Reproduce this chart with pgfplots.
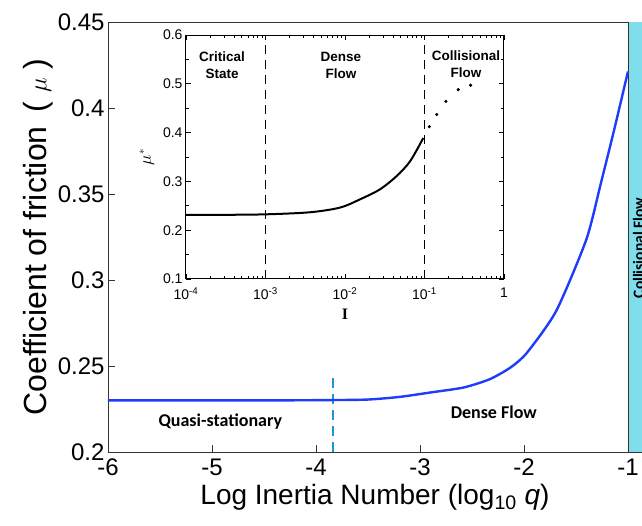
\documentclass[border=0pt]{standalone}
\usepackage{pgfplots}
\pgfplotsset{compat=1.18}
\usepackage{fontspec}
\setmainfont{Liberation Sans}
\newfontfamily\calibri{Carlito}
\newfontfamily\timesf{Liberation Serif}

\definecolor{mainblue}{RGB}{30,60,250}
\definecolor{dashblue}{RGB}{30,150,210}
\definecolor{bandcyan}{RGB}{128,222,236}

\begin{document}
\begin{tikzpicture}
% main plot
\begin{axis}[
    name=main,
    scale only axis,
    width=534pt, height=430pt,
    xmin=-6, xmax=-0.865, ymin=0.2, ymax=0.45,
    xtick={-6,-5,-4,-3,-2,-1},
    ytick={0.2,0.25,0.3,0.35,0.4,0.45},
    yticklabels={0.2,0.25,0.3,0.35,0.4,0.45},
    xticklabels={-6,-5,-4,-3,-2,-1},
    tick align=inside, xtick pos=bottom, ytick pos=left,
    major tick length=7pt,
    tick style={black!80, line width=0.7pt},
    axis line style={black!80, line width=0.8pt},
    tick label style={font=\fontsize{24}{24}\selectfont},
    xticklabel style={yshift=-3pt},
    xlabel={Log Inertia Number (log\textsubscript{10} \textit{q})},
    ylabel={Coefficient of friction \,( $\mu$ )},
    xlabel style={font=\fontsize{28}{28}\selectfont, yshift=-2pt},
    ylabel style={font=\fontsize{32}{32}\selectfont, yshift=-2pt},
]
\fill[bandcyan] (axis cs:-1,0.2) rectangle (axis cs:-0.865,0.45);
\draw[black!80, line width=0.8pt] (axis cs:-1,0.2) -- (axis cs:-1,0.45);
\addplot[dashblue, line width=1.8pt, dash pattern=on 10pt off 6pt] coordinates {(-3.84,0.2) (-3.84,0.243)};
\addplot[mainblue, line width=2.4pt, smooth, tension=0.4] coordinates {
    (-6,0.2300) (-4.5,0.2300) (-3.84,0.2302) (-3.5,0.2305) (-3.2,0.2320)
    (-2.9,0.2346) (-2.58,0.2375) (-2.33,0.2423) (-2.13,0.2491) (-1.97,0.2578)
    (-1.69,0.2820) (-1.40,0.3236) (-1.26,0.3564) (-1.13,0.3880) (-1.00,0.4212)
};
\node[font=\calibri\bfseries\fontsize{18}{18}\selectfont] at (axis cs:-4.92,0.2174) {Quasi-stationary};
\node[font=\calibri\bfseries\fontsize{18}{18}\selectfont] at (axis cs:-2.29,0.2233) {Dense Flow};
\node[overlay, rotate=90, anchor=base, font=\calibri\bfseries\fontsize{15.5}{15.5}\selectfont]
    at (axis cs:-0.848,0.3186) {Collisional Flow};
\end{axis}

% inset
\begin{axis}[
    at={(78pt,173pt)}, anchor=south west,
    scale only axis,
    width=318pt, height=244pt,
    xmode=log, xmin=1e-4, xmax=1, ymin=0.1, ymax=0.6,
    axis background/.style={fill=white},
    xtick={1e-4,1e-3,1e-2,1e-1,1},
    minor xtick={2e-4,3e-4,4e-4,5e-4,6e-4,7e-4,8e-4,9e-4,
                 2e-3,3e-3,4e-3,5e-3,6e-3,7e-3,8e-3,9e-3,
                 2e-2,3e-2,4e-2,5e-2,6e-2,7e-2,8e-2,9e-2,
                 0.2,0.3,0.4,0.5,0.6,0.7,0.8,0.9},
    xticklabels={10\textsuperscript{-4},10\textsuperscript{-3},10\textsuperscript{-2},10\textsuperscript{-1},1},
    ytick={0.1,0.2,0.3,0.4,0.5,0.6},
    yticklabels={0.1,0.2,0.3,0.4,0.5,0.6},
    minor y tick num=1,
    tick align=inside,
    major tick length=5pt, minor tick length=3pt,
    tick style={black, line width=0.7pt},
    axis line style={black, line width=1pt},
    tick label style={font=\fontsize{14}{14}\selectfont},
    xticklabel style={yshift=-5pt},
    xlabel={\timesf\bfseries I},
    ylabel={\timesf\bfseries $\mu^{*}$},
    xlabel style={font=\fontsize{16}{16}\selectfont, yshift=-2pt},
    ylabel style={font=\fontsize{16}{16}\selectfont, yshift=2pt},
]
\addplot[black, line width=1.8pt, dash pattern=on 9pt off 6pt] coordinates {(1e-3,0.1) (1e-3,0.6)};
\addplot[black, line width=1.8pt, dash pattern=on 9pt off 6pt] coordinates {(1e-1,0.1) (1e-1,0.6)};
\addplot[black, line width=2pt, smooth] coordinates {
    (1e-4,0.2312) (3e-4,0.2315) (1e-3,0.2325) (3.6e-3,0.2367) (8.65e-3,0.2463)
    (1.55e-2,0.2633) (2.75e-2,0.2837) (4.47e-2,0.311) (6.6e-2,0.3414) (9.66e-2,0.389)
};
\addplot[black, only marks, mark=*, mark size=1.4pt] coordinates {
    (0.115,0.412) (0.1426,0.437) (0.186,0.464) (0.266,0.488) (0.38,0.497)
};
\node[align=center, font=\bfseries\fontsize{13.5}{17.5}\selectfont] at (axis cs:2.84e-4,0.538) {Critical\\State};
\node[align=center, font=\bfseries\fontsize{13.5}{17.5}\selectfont] at (axis cs:8.9e-3,0.538) {Dense\\Flow};
\node[align=center, font=\bfseries\fontsize{13.5}{17.5}\selectfont] at (axis cs:0.333,0.540) {Collisional\\Flow};
\end{axis}
\pgfresetboundingbox
\path[use as bounding box] (-108pt,-73pt) rectangle (534pt,452pt);
\end{tikzpicture}
\end{document}
